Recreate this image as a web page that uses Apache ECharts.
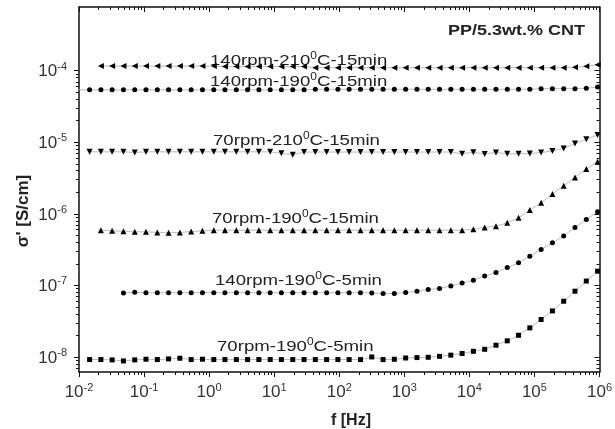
<!DOCTYPE html>
<html>
<head>
<meta charset="utf-8">
<script src="https://cdn.jsdelivr.net/npm/echarts@6/dist/echarts.min.js"></script>
<style>
  html, body { margin: 0; background: #fff; }
  #chart { width: 615px; height: 429px; }
</style>
</head>
<body>
<div id="chart"></div>
<script>
// measurement frequencies [Hz], shared by all samples
const freqHz = [
  0.00975, 0.01455, 0.0217, 0.0323, 0.0482, 0.0719, 0.107, 0.160, 0.238, 0.355,
  0.530, 0.790, 1.18, 1.75, 2.62, 3.90, 5.82, 8.68, 12.9, 19.3,
  28.8, 42.9, 64.0, 95.4, 142, 212, 316, 472, 703, 1049,
  1564, 2333, 3479, 5188, 7734, 11530, 17190, 25640, 38230, 57010,
  85000, 126800, 189000, 281900, 420400, 626900, 934800
]

// sigma' [S/cm], each list starts at freqHz[start]
const s140_210_15 = [
  1.16e-4, 1.16e-4, 1.16e-4, 1.16e-4, 1.16e-4, 1.16e-4, 1.16e-4, 1.16e-4, 1.16e-4, 1.16e-4,
  1.16e-4, 1.14e-4, 1.14e-4, 1.14e-4, 1.14e-4, 1.14e-4, 1.14e-4, 1.14e-4, 1.14e-4, 1.10e-4,
  1.10e-4, 1.10e-4, 1.10e-4, 1.10e-4, 1.10e-4, 1.10e-4, 1.10e-4, 1.10e-4, 1.10e-4, 1.10e-4,
  1.10e-4, 1.10e-4, 1.10e-4, 1.10e-4, 1.10e-4, 1.10e-4, 1.10e-4, 1.10e-4, 1.10e-4, 1.10e-4,
  1.10e-4, 1.10e-4, 1.12e-4, 1.15e-4, 1.21e-4
]
const s140_190_15 = [
  5.4e-5, 5.4e-5, 5.4e-5, 5.4e-5, 5.4e-5, 5.4e-5, 5.4e-5, 5.4e-5, 5.4e-5, 5.4e-5,
  5.4e-5, 5.4e-5, 5.4e-5, 5.4e-5, 5.4e-5, 5.4e-5, 5.4e-5, 5.4e-5, 5.4e-5, 5.4e-5,
  5.4e-5, 5.5e-5, 5.5e-5, 5.5e-5, 5.5e-5, 5.5e-5, 5.5e-5, 5.5e-5, 5.5e-5, 5.5e-5,
  5.5e-5, 5.5e-5, 5.5e-5, 5.5e-5, 5.5e-5, 5.5e-5, 5.5e-5, 5.5e-5, 5.5e-5, 5.5e-5,
  5.5e-5, 5.6e-5, 5.6e-5, 5.6e-5, 5.6e-5, 5.7e-5, 5.9e-5
]
const s70_210_15 = [
  7.35e-6, 7.35e-6, 7.35e-6, 7.35e-6, 7.2e-6, 7.35e-6, 7.35e-6, 7.35e-6, 7.35e-6, 7.35e-6,
  7.35e-6, 7.35e-6, 7.35e-6, 7.35e-6, 7.35e-6, 7.35e-6, 7.35e-6, 7.0e-6, 6.7e-6, 7.3e-6,
  7.3e-6, 7.3e-6, 7.3e-6, 7.3e-6, 7.3e-6, 7.3e-6, 7.3e-6, 7.3e-6, 7.3e-6, 7.3e-6,
  7.3e-6, 7.3e-6, 7.3e-6, 6.9e-6, 7.25e-6, 6.85e-6, 7.2e-6, 6.9e-6, 6.9e-6, 6.95e-6,
  7.2e-6, 7.55e-6, 8.2e-6, 9.6e-6, 1.1e-5, 1.26e-5
]
const s70_190_15 = [
  5.92e-7, 5.78e-7, 5.73e-7, 5.6e-7, 5.6e-7, 5.5e-7, 5.42e-7, 5.5e-7, 5.66e-7, 5.78e-7,
  5.9e-7, 5.9e-7, 5.9e-7, 5.9e-7, 5.9e-7, 5.9e-7, 5.9e-7, 5.9e-7, 5.9e-7, 5.9e-7,
  5.9e-7, 5.9e-7, 5.9e-7, 5.9e-7, 5.9e-7, 5.9e-7, 5.9e-7, 5.9e-7, 5.9e-7, 5.9e-7,
  5.9e-7, 5.9e-7, 5.9e-7, 6.1e-7, 6.46e-7, 6.73e-7, 7.48e-7, 8.79e-7, 1.13e-6, 1.43e-6,
  1.89e-6, 2.47e-6, 3.23e-6, 4.22e-6, 5.33e-6
]
const s140_190_5 = [
  7.85e-8, 8.0e-8, 7.9e-8, 7.9e-8, 7.9e-8, 7.9e-8, 7.9e-8, 7.9e-8, 7.9e-8, 7.9e-8,
  7.9e-8, 7.9e-8, 7.9e-8, 7.9e-8, 7.9e-8, 7.9e-8, 7.9e-8, 7.9e-8, 7.9e-8, 7.9e-8,
  7.9e-8, 7.9e-8, 7.85e-8, 7.71e-8, 7.71e-8, 7.96e-8, 8.3e-8, 8.77e-8, 9.06e-8, 9.84e-8,
  1.08e-7, 1.18e-7, 1.35e-7, 1.51e-7, 1.78e-7, 2.07e-7, 2.56e-7, 3.18e-7, 3.93e-7, 4.92e-7,
  6.46e-7, 8.36e-7, 1.07e-6
]
const s70_190_5 = [
  9.2e-9, 9.2e-9, 9.1e-9, 8.8e-9, 9.1e-9, 9.3e-9, 9.2e-9, 9.4e-9, 9.6e-9, 9.2e-9,
  9.3e-9, 9.2e-9, 9.2e-9, 9.2e-9, 9.2e-9, 9.2e-9, 9.2e-9, 9.2e-9, 9.2e-9, 9.2e-9,
  9.2e-9, 9.2e-9, 9.2e-9, 9.2e-9, 9.2e-9, 1.0e-8, 9.2e-9, 9.29e-9, 9.68e-9, 9.81e-9,
  9.9e-9, 1.02e-8, 1.06e-8, 1.12e-8, 1.20e-8, 1.28e-8, 1.46e-8, 1.68e-8, 2.01e-8, 2.55e-8,
  3.34e-8, 4.40e-8, 6.01e-8, 8.30e-8, 1.15e-7, 1.58e-7
]

const samples = [
  { name: '140rpm-210°C-15min', values: s140_210_15, start: 2, symbol: 'triangle', rotate: 90, size: 6 },
  { name: '140rpm-190°C-15min', values: s140_190_15, start: 0, symbol: 'circle', rotate: 0, size: 5 },
  { name: '70rpm-210°C-15min', values: s70_210_15, start: 1, symbol: 'triangle', rotate: 180, size: 6 },
  { name: '70rpm-190°C-15min', values: s70_190_15, start: 2, symbol: 'triangle', rotate: 0, size: 6 },
  { name: '140rpm-190°C-5min', values: s140_190_5, start: 4, symbol: 'circle', rotate: 0, size: 5 },
  { name: '70rpm-190°C-5min', values: s70_190_5, start: 1, symbol: 'rect', rotate: 0, size: 5 }
]

// axes in decades (log10)
const xMajor = [-2, -1, 0, 1, 2, 3, 4, 5, 6]
const yMajor = [-8, -7, -6, -5, -4]
const minorMults = [2, 3, 4, 5, 6, 7, 8, 9]
const yMin = -8.21
const yMax = -3.11

const minorOf = (majors) => {
  const out = []
  majors.slice(0, -1).forEach((d) => minorMults.forEach((m) => out.push(d + Math.log10(m))))
  return out
}
const xMinor = minorOf(xMajor)
const yMinor = minorOf([-9].concat(yMajor)).filter((v) => v > yMin && v < yMax)

const font = 'Liberation Sans, Arial, sans-serif'
const ink = '#111'
const tickRich = {
  b: { fontSize: 17, fontFamily: font, color: '#333', lineHeight: 19, verticalAlign: 'bottom' },
  s: { fontSize: 11, fontFamily: font, color: '#333', lineHeight: 11, verticalAlign: 'top' }
}
const powLabel = (v) => '{b|10}{s|' + Math.round(v) + '}'

const makeX = (pos, major) => ({
  type: 'value', min: -2, max: 6, position: pos,
  axisLine: { show: major, onZero: false, lineStyle: { color: ink, width: 1.5 } },
  axisTick: { show: true, inside: pos === 'top', length: major ? 5 : 3,
    customValues: major ? xMajor : xMinor, lineStyle: { color: ink, width: 1 } },
  axisLabel: { show: major && pos === 'bottom', customValues: xMajor, margin: 10,
    formatter: powLabel, rich: tickRich },
  splitLine: { show: false }
})
const makeY = (pos, major) => ({
  type: 'value', min: yMin, max: yMax, position: pos,
  axisLine: { show: major, onZero: false, lineStyle: { color: ink, width: 1.5 } },
  axisTick: { show: true, inside: pos === 'right', length: major ? 5 : 3,
    customValues: major ? yMajor : yMinor, lineStyle: { color: ink, width: 1 } },
  axisLabel: { show: major && pos === 'left', customValues: yMajor, margin: 12,
    formatter: powLabel, rich: tickRich },
  splitLine: { show: false }
})

const series = samples.map((s) => ({
  name: s.name,
  type: 'line',
  xAxisIndex: 0,
  yAxisIndex: 0,
  symbol: s.symbol,
  symbolRotate: s.rotate,
  symbolSize: s.size,
  showAllSymbol: true,
  itemStyle: { color: '#000' },
  lineStyle: { color: '#aaa', width: 0.8 },
  data: s.values.map((v, i) => [Math.log10(freqHz[s.start + i]), Math.log10(v)])
}))

// text with a raised "0" for the degree sign
const noteRich = (size, weight) => ({
  n: { fontSize: size, fontWeight: weight, fontFamily: font, fill: '#222', lineHeight: 18, verticalAlign: 'bottom' },
  s: { fontSize: 10, fontFamily: font, fill: '#222', lineHeight: 10, verticalAlign: 'top' }
})
const note = (name, x, y) => {
  const parts = name.split('°')
  return {
    type: 'text', x: x, y: y, scaleX: 1.2,
    style: {
      text: '{n|' + parts[0] + '}{s|0}{n|' + parts[1] + '}',
      rich: noteRich(15.5, 'normal'),
      align: 'left', verticalAlign: 'middle', textAlign: 'left', textVerticalAlign: 'middle'
    }
  }
}
const notePos = [[210, 60], [210, 81], [213, 140], [212, 218], [215, 280], [217, 346]]

const chart = echarts.init(document.getElementById('chart'))
chart.setOption({
  animation: false,
  grid: { left: 79, right: 7, top: 7, bottom: 57, containLabel: false },
  xAxis: [makeX('bottom', true), makeX('bottom', false), makeX('top', true), makeX('top', false)],
  yAxis: [makeY('left', true), makeY('left', false), makeY('right', true), makeY('right', false)],
  series: series,
  graphic: samples.map((s, i) => note(s.name, notePos[i][0], notePos[i][1])).concat([
    {
      type: 'text', x: 448, y: 31, scaleX: 1.2,
      style: { text: 'PP/5.3wt.% CNT', font: 'bold 15px ' + font, fill: '#222',
        align: 'left', verticalAlign: 'middle', textAlign: 'left', textVerticalAlign: 'middle' }
    },
    {
      type: 'text', x: 351, y: 421,
      style: { text: 'f [Hz]', font: 'bold 16px ' + font, fill: '#222',
        align: 'center', verticalAlign: 'middle', textAlign: 'center', textVerticalAlign: 'middle' }
    },
    {
      type: 'text', x: 23, y: 211, rotation: Math.PI / 2,
      style: { text: "σ' [S/cm]", font: 'bold 17px ' + font, fill: '#222',
        align: 'center', verticalAlign: 'middle', textAlign: 'center', textVerticalAlign: 'middle' }
    }
  ])
})
</script>
</body>
</html>
